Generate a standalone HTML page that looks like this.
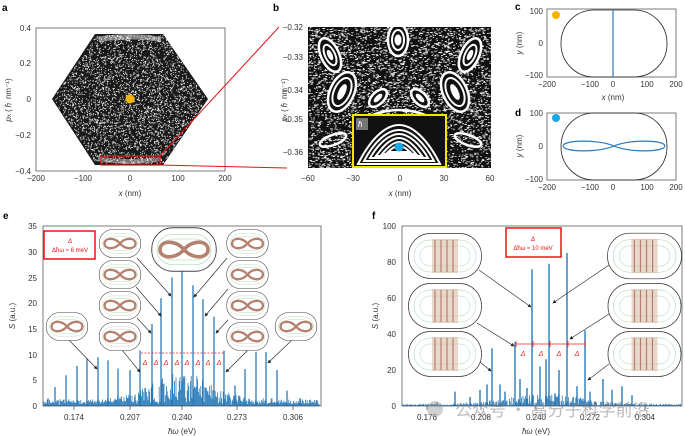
<!DOCTYPE html>
<html><head><meta charset="utf-8"><style>
html,body{margin:0;padding:0;background:#fff;}
svg{display:block;font-family:"Liberation Sans","Noto Sans CJK SC",sans-serif;}
.t{font-size:8px;fill:#333;}
.L{font-size:10px;font-weight:bold;fill:#000;}
</style></head><body>
<svg id="s" width="685" height="436" viewBox="0 0 685 436" xmlns="http://www.w3.org/2000/svg">
<defs>
<symbol id="ie" viewBox="0 0 44 30">
 <rect x="0.5" y="0.5" width="43" height="29" rx="14" fill="#fff" stroke="#444" stroke-width="0.6"/>
 <rect x="4" y="5" width="36" height="20" rx="10" fill="none" stroke="#a8d0a8" stroke-width="0.4"/>
 <rect x="7" y="8" width="30" height="14" rx="7" fill="none" stroke="#a8d0a8" stroke-width="0.4"/>
 <path d="M22,15 C28,8 38,9 38,15 C38,21 28,22 22,15 C16,8 6,9 6,15 C6,21 16,22 22,15 Z" fill="none" stroke="#b5826f" stroke-width="2.4"/>
</symbol>
<symbol id="if" viewBox="0 0 74 46">
 <rect x="0.5" y="0.5" width="73" height="45" rx="22" fill="#fff" stroke="#333" stroke-width="0.7"/>
 <rect x="6" y="7" width="62" height="32" rx="16" fill="none" stroke="#a8d0a8" stroke-width="0.5"/>
 <rect x="12" y="13" width="50" height="20" rx="10" fill="none" stroke="#a8d0a8" stroke-width="0.5"/>
 <rect x="24" y="6" width="26" height="34" fill="#d8b8a0" opacity="0.55"/>
 <g stroke="#a05a50" stroke-width="1.2" opacity="0.7"><line x1="27" y1="7" x2="27" y2="39"/><line x1="33" y1="7" x2="33" y2="39"/><line x1="39" y1="7" x2="39" y2="39"/><line x1="45" y1="7" x2="45" y2="39"/></g>
</symbol>
<marker id="ar" markerWidth="6" markerHeight="6" refX="5" refY="3" orient="auto"><path d="M0,0 L6,3 L0,6 Z" fill="#222"/></marker>
<clipPath id="cb"><rect x="308" y="27" width="183" height="141"/></clipPath>
</defs>

<!-- Panel a -->
<text class="L" x="2" y="11">a</text>
<rect x="36" y="28" width="189" height="143" fill="#fff" stroke="#444" stroke-width="0.7"/>
<polygon points="52,99 95,34 163,34 208,99 163,165 95,165" fill="#1a1a1a"/>
<path d="M96,37 Q130,31 162,37 L160,42 Q130,37 100,42Z" fill="#fff" opacity="0.45"/>
<path d="M96,161 Q130,167 162,161 L160,157 Q130,161 100,157Z" fill="#fff" opacity="0.4"/>
<g id="adots"></g>
<circle cx="130" cy="99" r="4.5" fill="#f5b300"/>
<rect x="101" y="156" width="59" height="9" fill="none" stroke="#e11" stroke-width="1.2"/>
<line x1="160" y1="156" x2="279" y2="27" stroke="#e11" stroke-width="1"/>
<line x1="160" y1="165" x2="287" y2="168" stroke="#e11" stroke-width="1"/>
<g class="t" text-anchor="end"><text x="31" y="31">0.4</text><text x="31" y="66">0.2</text><text x="31" y="102">0</text><text x="31" y="138">−0.2</text><text x="31" y="174">−0.4</text></g>
<g class="t" text-anchor="middle"><text x="36" y="181">−200</text><text x="83" y="181">−100</text><text x="130" y="181">0</text><text x="178" y="181">100</text><text x="225" y="181">200</text></g>
<text class="t" x="130" y="196" text-anchor="middle"><tspan font-style="italic">x</tspan> (nm)</text>
<text class="t" transform="translate(11,100) rotate(-90)" text-anchor="middle"><tspan font-style="italic">p</tspan><tspan font-size="6">x</tspan> (ℏ nm⁻¹)</text>

<!-- Panel b -->
<text class="L" x="273" y="11">b</text>
<rect x="308" y="27" width="183" height="141" fill="#111"/>
<g id="bdots" clip-path="url(#cb)"></g>
<g clip-path="url(#cb)" fill="none" stroke="#fff">
 <g transform="translate(398,40)" fill="#111"><ellipse rx="10" ry="16" stroke-width="2.5"/><ellipse rx="6" ry="10" stroke-width="2"/><ellipse rx="3" ry="5" fill="#fff"/></g>
 <g transform="translate(330,55) rotate(-25)" fill="#111"><ellipse rx="9" ry="18" stroke-width="2.5"/><ellipse rx="5" ry="11" stroke-width="2"/><ellipse rx="2" ry="5" fill="#fff"/></g>
 <g transform="translate(470,55) rotate(25)" fill="#111"><ellipse rx="9" ry="18" stroke-width="2.5"/><ellipse rx="5" ry="11" stroke-width="2"/><ellipse rx="2" ry="5" fill="#fff"/></g>
 <g transform="translate(342,92) rotate(25)" fill="#111"><ellipse rx="12" ry="21" stroke-width="2.5"/><ellipse rx="8" ry="15" stroke-width="2"/><ellipse rx="3" ry="8" fill="#fff"/></g>
 <g transform="translate(455,92) rotate(-25)" fill="#111"><ellipse rx="12" ry="21" stroke-width="2.5"/><ellipse rx="8" ry="15" stroke-width="2"/><ellipse rx="3" ry="8" fill="#fff"/></g>
 <g transform="translate(378,98) rotate(45)" fill="#111"><ellipse rx="6" ry="11" stroke-width="2.5"/><ellipse rx="2" ry="5" fill="#fff"/></g>
 <g transform="translate(420,98) rotate(-45)" fill="#111"><ellipse rx="6" ry="11" stroke-width="2.5"/><ellipse rx="2" ry="5" fill="#fff"/></g>
 <g transform="translate(333,140) rotate(-20)"><ellipse rx="14" ry="5" stroke-width="2.5"/></g>
 <g transform="translate(468,140) rotate(20)"><ellipse rx="14" ry="5" stroke-width="2.5"/></g>
 <path d="M370,116 Q399,104 428,116" stroke-width="2.5"/>
 <path d="M365,120 Q399,110 433,120" stroke-width="1.5"/>
 <rect x="354" y="116" width="91" height="50" fill="#111" stroke="none"/>
 <g stroke-width="2">
  <path d="M358,164 C370,140 385,125 399,125 C413,125 428,140 440,164 Z"/>
  <path d="M364,161 C374,142 387,130 399,130 C411,130 424,142 434,161 Z"/>
  <path d="M370,158 C378,144 389,134 399,134 C409,134 420,144 428,158 Z"/>
  <path d="M376,156 C383,146 391,138 399,138 C407,138 415,146 422,156 Z"/>
  <path d="M382,154 C387,148 393,142 399,142 C405,142 411,148 416,154 Z"/>
  <path d="M388,152 C391,149 395,146 399,146 C403,146 407,149 410,152 Z"/>
 </g>
</g>
<rect x="353" y="115" width="93" height="52" fill="none" stroke="#f2e600" stroke-width="2"/>
<rect x="356" y="118" width="12" height="12" fill="#777"/><text x="358" y="127" font-size="8" font-style="italic" fill="#fff">ħ</text>
<circle cx="399" cy="147" r="4.5" fill="#1aa7e6"/>
<g class="t" text-anchor="end"><text x="303" y="30">−0.32</text><text x="303" y="60">−0.33</text><text x="303" y="93">−0.34</text><text x="303" y="122">−0.35</text><text x="303" y="155">−0.36</text></g>
<g class="t" text-anchor="middle"><text x="308" y="181">−60</text><text x="353" y="181">−30</text><text x="400" y="181">0</text><text x="444" y="181">30</text><text x="490" y="181">60</text></g>
<text class="t" x="400" y="196" text-anchor="middle"><tspan font-style="italic">x</tspan> (nm)</text>
<text class="t" transform="translate(287,100) rotate(-90)" text-anchor="middle"><tspan font-style="italic">p</tspan><tspan font-size="6">x</tspan> (ℏ nm⁻¹)</text>

<!-- Panel c -->
<text class="L" x="515" y="10">c</text>
<rect x="547" y="9" width="129" height="68" fill="#fff" stroke="#444" stroke-width="0.7"/>
<rect x="561" y="10" width="106" height="67" rx="33" fill="none" stroke="#222" stroke-width="0.8"/>
<line x1="613" y1="10" x2="613" y2="77" stroke="#2b7bba" stroke-width="1.2"/>
<circle cx="556" cy="15" r="4" fill="#f5b300"/>
<g class="t" text-anchor="end"><text x="543" y="14">100</text><text x="543" y="46">0</text><text x="543" y="78">−100</text></g>
<g class="t" text-anchor="middle"><text x="547" y="87">−200</text><text x="590" y="87">−100</text><text x="613" y="87">0</text><text x="647" y="87">100</text><text x="676" y="87">200</text></g>
<text class="t" x="613" y="100" text-anchor="middle"><tspan font-style="italic">x</tspan> (nm)</text>
<text class="t" transform="translate(522,43) rotate(-90)" text-anchor="middle"><tspan font-style="italic">y</tspan> (nm)</text>

<!-- Panel d -->
<text class="L" x="515" y="116">d</text>
<rect x="547" y="113" width="129" height="67" fill="#fff" stroke="#444" stroke-width="0.7"/>
<rect x="561" y="113" width="106" height="67" rx="33" fill="none" stroke="#222" stroke-width="0.8"/>
<path d="M614,146 C630,139 665,140 665,146 C665,152 630,153 614,146 C598,139 563,140 563,146 C563,152 598,153 614,146Z" fill="none" stroke="#2b7bba" stroke-width="1.2"/>
<circle cx="556" cy="118" r="4" fill="#1aa7e6"/>
<g class="t" text-anchor="end"><text x="543" y="116">100</text><text x="543" y="149">0</text><text x="543" y="182">−100</text></g>
<g class="t" text-anchor="middle"><text x="547" y="190">−200</text><text x="590" y="190">−100</text><text x="613" y="190">0</text><text x="647" y="190">100</text><text x="676" y="190">200</text></g>
<text class="t" transform="translate(522,146) rotate(-90)" text-anchor="middle"><tspan font-style="italic">y</tspan> (nm)</text>

<!-- Panel e -->
<text class="L" x="3" y="219">e</text>
<g id="enoise"></g>
<g id="epk" stroke="#2b7bba" stroke-width="1.3"></g>
<rect x="43" y="226" width="278" height="180" fill="none" stroke="#444" stroke-width="0.7"/>
<g class="t" text-anchor="end"><text x="37" y="229">35</text><text x="37" y="255">30</text><text x="37" y="281">25</text><text x="37" y="306">20</text><text x="37" y="332">15</text><text x="37" y="358">10</text><text x="37" y="383">5</text><text x="37" y="409">0</text></g>
<g class="t" text-anchor="middle"><text x="74" y="420">0.174</text><text x="130" y="420">0.207</text><text x="182" y="420">0.240</text><text x="237" y="420">0.273</text><text x="293" y="420">0.306</text></g>
<g stroke="#444" stroke-width="0.7"><line x1="74" y1="406" x2="74" y2="410"/><line x1="130" y1="406" x2="130" y2="410"/><line x1="182" y1="406" x2="182" y2="410"/><line x1="237" y1="406" x2="237" y2="410"/><line x1="293" y1="406" x2="293" y2="410"/></g>
<text class="t" x="182" y="434" text-anchor="middle"><tspan font-style="italic">ħω</tspan> (eV)</text>
<text class="t" transform="translate(15,316) rotate(-90)" text-anchor="middle"><tspan font-style="italic">S</tspan> (a.u.)</text>
<rect x="44" y="231" width="51" height="28" fill="#fff" stroke="#e11" stroke-width="1.5"/>
<text x="70" y="243" font-size="6" fill="#e11" text-anchor="middle" font-style="italic">Δ</text>
<text x="70" y="252" font-size="6" fill="#e11" text-anchor="middle">Δħω ≈ 6 meV</text>
<line x1="141" y1="353" x2="224" y2="353" stroke="#e22" stroke-width="0.8" stroke-dasharray="2,1.5"/>
<g font-size="7" fill="#e22" font-style="italic" text-anchor="middle"><text x="145" y="365">Δ</text><text x="156" y="365">Δ</text><text x="166" y="365">Δ</text><text x="177" y="365">Δ</text><text x="187" y="365">Δ</text><text x="198" y="365">Δ</text><text x="208" y="365">Δ</text><text x="219" y="365">Δ</text></g>
<g stroke="#222" stroke-width="0.6" marker-end="url(#ar)" fill="none">
 <line x1="69" y1="340" x2="97" y2="369"/>
 <line x1="137" y1="258" x2="171" y2="296"/>
 <line x1="136" y1="287" x2="161" y2="316"/>
 <line x1="137" y1="318" x2="151" y2="333"/>
 <line x1="122" y1="350" x2="140" y2="372"/>
 <line x1="227" y1="258" x2="194" y2="297"/>
 <line x1="228" y1="289" x2="205" y2="316"/>
 <line x1="228" y1="320" x2="216" y2="333"/>
 <line x1="248" y1="350" x2="226" y2="372"/>
 <line x1="292" y1="340" x2="268" y2="363"/>
</g>
<use href="#ie" x="45" y="312" width="44" height="29"/>
<use href="#ie" x="98" y="229" width="44" height="29"/>
<use href="#ie" x="98" y="260" width="44" height="29"/>
<use href="#ie" x="98" y="291" width="44" height="29"/>
<use href="#ie" x="98" y="322" width="44" height="29"/>
<use href="#ie" x="150" y="227" width="68" height="45"/>
<use href="#ie" x="225" y="229" width="45" height="29"/>
<use href="#ie" x="225" y="260" width="45" height="29"/>
<use href="#ie" x="225" y="291" width="45" height="29"/>
<use href="#ie" x="225" y="322" width="45" height="29"/>
<use href="#ie" x="274" y="312" width="44" height="29"/>

<!-- Panel f -->
<text class="L" x="372" y="219">f</text>
<g id="fnoise"></g>
<g id="fpk" stroke="#2b7bba" stroke-width="1.4"></g>
<rect x="402" y="226" width="280" height="180" fill="none" stroke="#444" stroke-width="0.7"/>
<g class="t" text-anchor="end"><text x="396" y="229">100</text><text x="396" y="265">80</text><text x="396" y="301">60</text><text x="396" y="337">40</text><text x="396" y="373">20</text><text x="396" y="409">0</text></g>
<g class="t" text-anchor="middle"><text x="427" y="420">0.176</text><text x="481" y="420">0.208</text><text x="536" y="420">0.240</text><text x="590" y="420">0.272</text><text x="645" y="420">0.304</text></g>
<g stroke="#444" stroke-width="0.7"><line x1="427" y1="406" x2="427" y2="410"/><line x1="481" y1="406" x2="481" y2="410"/><line x1="536" y1="406" x2="536" y2="410"/><line x1="590" y1="406" x2="590" y2="410"/><line x1="645" y1="406" x2="645" y2="410"/></g>
<text class="t" x="536" y="434" text-anchor="middle"><tspan font-style="italic">ħω</tspan> (eV)</text>
<text class="t" transform="translate(378,316) rotate(-90)" text-anchor="middle"><tspan font-style="italic">S</tspan> (a.u.)</text>
<rect x="506" y="228" width="55" height="29" fill="#fff" stroke="#e11" stroke-width="1.5"/>
<text x="533" y="241" font-size="6" fill="#e11" text-anchor="middle" font-style="italic">Δ</text>
<text x="533" y="250" font-size="6" fill="#e11" text-anchor="middle">Δħω ≈ 10 meV</text>
<line x1="516" y1="344" x2="585" y2="344" stroke="#e22" stroke-width="0.8"/>
<g stroke="#e22" stroke-width="0.8"><line x1="516" y1="341" x2="516" y2="347"/><line x1="533" y1="341" x2="533" y2="347"/><line x1="550" y1="341" x2="550" y2="347"/><line x1="568" y1="341" x2="568" y2="347"/><line x1="585" y1="341" x2="585" y2="347"/></g>
<g font-size="7" fill="#e22" font-style="italic" text-anchor="middle"><text x="523" y="356">Δ</text><text x="541" y="356">Δ</text><text x="559" y="356">Δ</text><text x="577" y="356">Δ</text></g>
<g stroke="#222" stroke-width="0.6" marker-end="url(#ar)" fill="none">
 <line x1="479" y1="270" x2="531" y2="307"/>
 <line x1="477" y1="323" x2="514" y2="346"/>
 <line x1="480" y1="362" x2="491" y2="371"/>
 <line x1="609" y1="265" x2="553" y2="303"/>
 <line x1="609" y1="314" x2="570" y2="339"/>
 <line x1="609" y1="364" x2="588" y2="380"/>
</g>
<use href="#if" x="408" y="232" width="74" height="48"/>
<use href="#if" x="408" y="283" width="74" height="46"/>
<use href="#if" x="408" y="331" width="74" height="46"/>
<use href="#if" x="607" y="232" width="75" height="48"/>
<use href="#if" x="607" y="283" width="75" height="46"/>
<use href="#if" x="607" y="331" width="75" height="46"/>
<circle cx="435" cy="409" r="8" fill="#999" opacity="0.45"/>
<text x="455" y="416" font-size="17" fill="#888" opacity="0.55" font-family="'Noto Sans CJK SC',sans-serif">公众号 · 高分子科学前沿</text>
</svg>
<script>
(function(){
var NS="http://www.w3.org/2000/svg";
function el(p,t,a){var e=document.createElementNS(NS,t);for(var k in a)e.setAttribute(k,a[k]);p.appendChild(e);return e;}
var seed=7;function r(){seed=(seed*16807)%2147483647;return seed/2147483647;}
var g=document.getElementById("adots");
for(var i=0;i<5000;i++){var x=52+r()*156,y=34+r()*131;var dx=Math.abs(x-130),dy=Math.abs(y-99.5);
 if(dy>64)continue; if(dx>77-dy*0.68)continue;
 el(g,"circle",{cx:x.toFixed(1),cy:y.toFixed(1),r:0.55,fill:"#fff",opacity:0.9});}
g=document.getElementById("bdots");
for(i=0;i<4500;i++){var x=308+r()*183,y=27+r()*141;
 el(g,"rect",{x:x.toFixed(1),y:y.toFixed(1),width:(0.6+r()*2).toFixed(1),height:0.9,fill:"#fff",opacity:0.9});}
var ep=[[48,1.5],[55,3.7],[66,6],[77,7.8],[87,9.2],[98,9.5],[108,8.9],[118,7.3],[130,7],[140,10.8],[152,16],[161,21],[172,25],[182,34],[193,23.5],[203,20.8],[214,17.4],[224,10.8],[235,4],[245,7.2],[256,10.5],[266,10.5],[277,7],[287,3],[300,1.5]];
g=document.getElementById("epk");
ep.forEach(function(p){el(g,"line",{x1:p[0],y1:406,x2:p[0],y2:(406-p[1]*5.14).toFixed(1)});});
g=document.getElementById("enoise");
for(x=44;x<320;x+=0.8){var c=Math.exp(-Math.pow((x-180)/45,2));var h=(r()*(1+11*c)+r()*1.5)*5.14*0.5+1;
 el(g,"line",{x1:x.toFixed(1),y1:406,x2:x.toFixed(1),y2:(406-h).toFixed(1),stroke:"#2b7bba","stroke-width":0.8});}
var fp=[[437,2],[455,8],[470,5],[480,9],[487,12],[492,32],[500,12],[505,8],[515,35.5],[520,15],[527,10],[532,76],[540,22],[546,26],[549,79],[555,7],[559,20],[567,85],[577,11],[585,42],[590,8],[603,15],[612,9],[622,11],[632,6]];
g=document.getElementById("fpk");
fp.forEach(function(p){el(g,"line",{x1:p[0],y1:406,x2:p[0],y2:(406-p[1]*1.8).toFixed(1)});});
g=document.getElementById("fnoise");
for(x=403;x<681;x+=0.8){var c=Math.exp(-Math.pow((x-545)/55,2));var h=(r()*(1+6*c))*1.8*0.9+0.5;
 el(g,"line",{x1:x.toFixed(1),y1:406,x2:x.toFixed(1),y2:(406-h).toFixed(1),stroke:"#2b7bba","stroke-width":0.8});}
})();
</script>
</body></html>
